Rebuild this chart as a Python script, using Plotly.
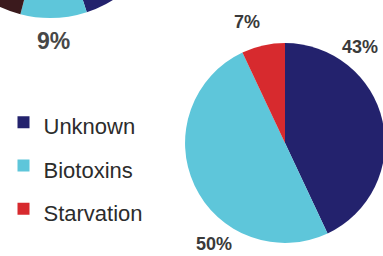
import plotly.graph_objects as go

# ---- data ----
labels = ["Unknown", "Biotoxins", "Starvation"]
main_values = [43, 50, 7]
main_colors = ["#23226d", "#5ec6da", "#d72a2e"]

# partially visible pie at the top-left (only its lower edge is in view)
top_labels = ["Unknown", "Biotoxins", "Other"]
top_values = [45, 9, 46]
top_colors = ["#23226d", "#5ec6da", "#3b1a1d"]

# ---- canvas: the visible 383x256 window is a crop of a larger figure ----
OX, OY = 100, 280          # hidden area left / above the window
W, H = 490, 256 + OY


def px(x):
    return (x + OX) / W


def py(y):
    return 1 - (y + OY) / H


def dom(cx, cy, r):
    return dict(x=[px(cx - r), px(cx + r)], y=[py(cy + r), py(cy - r)])


FONT = "Liberation Sans, Arial, sans-serif"

fig = go.Figure()

fig.add_trace(go.Pie(
    labels=top_labels, values=top_values, sort=False, direction="clockwise",
    rotation=0, marker=dict(colors=top_colors, line=dict(width=0)),
    textinfo="none", showlegend=False, hoverinfo="label+percent",
    domain=dom(50, -101, 119),
))

fig.add_trace(go.Pie(
    labels=[f"<span style='font-size:22px'>{l}</span>" for l in labels],
    values=main_values, sort=False, direction="clockwise",
    rotation=0, marker=dict(colors=main_colors, line=dict(width=0)),
    textinfo="none", hoverinfo="label+percent",
    domain=dom(285, 143, 100),
))

label_font = dict(family=FONT, size=18, color="#3a3a3a")
ann = []
main_pos = [(360, 47), (214, 244), (247, 22)]
for v, (x, y) in zip(main_values, main_pos):
    ann.append(dict(x=px(x), y=py(y), xref="paper", yref="paper",
                    text=f"<b>{v}%</b>", showarrow=False, font=label_font,
                    xanchor="center", yanchor="middle"))
ann.append(dict(x=px(53), y=py(41), xref="paper", yref="paper",
                text=f"<b>{top_values[1]}%</b>", showarrow=False,
                font=dict(family=FONT, size=23, color="#474747"),
                xanchor="center", yanchor="middle"))

fig.update_layout(
    width=W, height=H,
    margin=dict(l=0, r=0, t=0, b=0),
    paper_bgcolor="white", plot_bgcolor="white",
    showlegend=True,
    legend=dict(x=px(3.5), y=py(95.5), xanchor="left", yanchor="top",
                font=dict(family=FONT, size=31, color="#2c2c2c"),
                bgcolor="rgba(0,0,0,0)", itemclick=False),
    annotations=ann,
)

post = (
    "document.documentElement.style.overflow='hidden';"
    "document.body.style.overflow='hidden';"
    "var gd=document.getElementById('{plot_id}');"
    f"gd.style.position='absolute';gd.style.left='-{OX}px';gd.style.top='-{OY}px';"
)

fig.write_html("out.html", post_script=post, config={"displayModeBar": False})
